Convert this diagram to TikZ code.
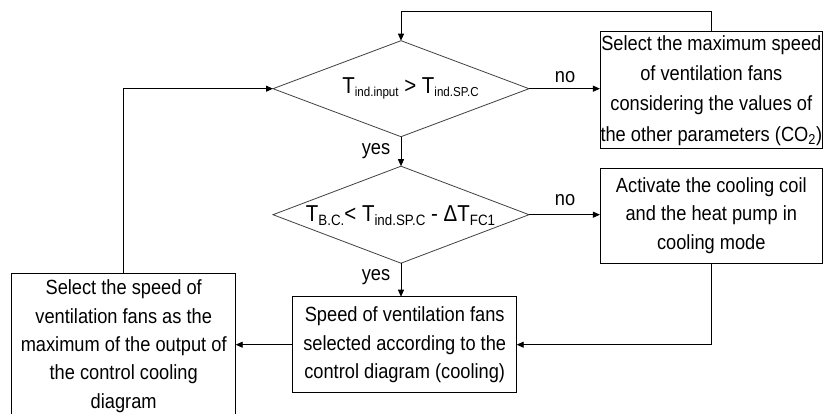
\documentclass[tikz,border=0pt]{standalone}
\usepackage{fontspec}
\setmainfont{Liberation Sans}[FakeStretch=0.89]
\usetikzlibrary{arrows.meta,shapes.geometric}
\newcommand\dsubA[1]{\raisebox{-3.5pt}{\fontsize{13}{13}\selectfont #1}}
\newcommand\dsubB[1]{\raisebox{-4pt}{\fontsize{15}{15}\selectfont #1}}
\begin{document}
\begin{tikzpicture}[x=1pt,y=-1pt,
  every node/.style={font=\fontsize{20.5}{28.3}\selectfont},
  box/.style={draw, line width=0.9pt, inner sep=0pt, outer sep=0pt, align=center},
  dia/.style={diamond, draw=black!75, line width=0.8pt, inner sep=0pt, outer sep=0pt},
  dtext/.style={inner sep=0pt, anchor=base, font=\fontsize{23}{28}\selectfont},
  arr/.style={-{Triangle[length=7pt,width=6pt]}, line width=0.9pt},
  lbl/.style={inner sep=0pt}]
\useasboundingbox (0,0) rectangle (824,414);
\clip (0,0) rectangle (824,414);
% decisions
\node[dia, minimum width=256pt, minimum height=96pt] (d1) at (401,88.7) {};
\node[dtext] (d1t) at (410.5,93.3) {T\dsubA{ind.input} > T\dsubA{ind.SP.C}};
\node[dia, minimum width=256pt, minimum height=97pt] (d2) at (401,214.7) {};
\node[dtext] (d2t) at (400.5,221.7) {T\dsubB{B.C.}< T\dsubB{ind.SP.C} - ΔT\dsubB{FC1}};
% boxes
\node[box, minimum width=222.7pt, minimum height=117.3pt] (b1) at (711.3,90.3)
  {Select the maximum speed\\[2pt] of ventilation fans\\[2pt] considering the values of\\[2pt] the other parameters (CO\textsubscript{2})};
\node[box, minimum width=222.7pt, minimum height=95pt] (b2) at (711.3,215.5)
  {Activate the cooling coil\\ and the heat pump in\\ cooling mode};
\node[box, minimum width=224pt, minimum height=96pt] (b3) at (404.7,344.7)
  {Speed of ventilation fans\\ selected according to the\\ control diagram (cooling)};
\node[box, minimum width=224pt, minimum height=145.7pt] (b4) at (123.7,346.2)
  {Select the speed of\\ ventilation fans as the\\ maximum of the output of\\ the control cooling\\ diagram};
% connectors
\coordinate (top) at (0,11.7);
\draw[arr] (b1.north) -- (b1.north |- top) -| (d1.north);
\draw[arr] (d1.east) -- (d1.east -| b1.west);
\node[lbl] (no1) at (565,77) {no};
\draw[arr] (d1.south) -- (d2.north);
\node[lbl] (yes1) at (376,151) {yes};
\draw[arr] (d2.east) -- (d2.east -| b2.west);
\node[lbl] (no2) at (565,200) {no};
\draw[arr] (d2.south) -- (d2.south |- b3.north);
\node[lbl] (yes2) at (376,277) {yes};
\draw[arr] (b2.south) |- (b3.east);
\draw[arr] (b3.west) -- (b3.west -| b4.east);
\draw[arr] (b4.north) |- (d1.west);
\end{tikzpicture}
\end{document}
